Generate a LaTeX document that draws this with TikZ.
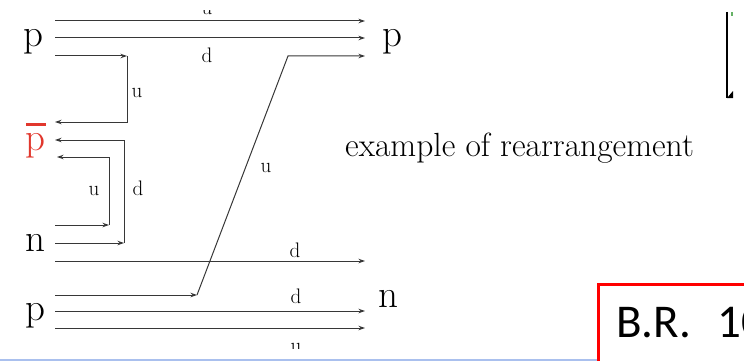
\documentclass[tikz,border=0pt]{standalone}
\usepackage{fontspec}
\newfontfamily\brfont{Carlito}
\usetikzlibrary{arrows.meta}
\definecolor{pred}{RGB}{225,55,45}
\definecolor{lineblue}{RGB}{170,192,238}
\definecolor{quarkline}{RGB}{55,55,55}
\tikzset{
  quark/.style={line width=1pt, draw=quarkline},
  arr/.style={quark, -{Stealth[length=6.5pt,width=4.5pt]}},
  big/.style={font=\fontsize{39}{41}\selectfont, inner sep=0pt, anchor=base},
  lbl/.style={font=\fontsize{21}{23}\selectfont, inner sep=0pt, anchor=base},
}
\begin{document}
\begin{tikzpicture}[x=1pt,y=-1pt]
\useasboundingbox (0,0) rectangle (744,361);
\begin{scope}
\clip (0,11) rectangle (744,348.5);
% end points
\coordinate (a1) at (55,21);  \coordinate (b1) at (365,21);
\coordinate (a2) at (55,38);  \coordinate (b2) at (365,38);
\coordinate (a3) at (55,56);  \coordinate (c3) at (127,56);
\coordinate (d3) at (127,122); \coordinate (e3) at (55,122);
\coordinate (f3) at (288,56); \coordinate (b3) at (365,56);
\coordinate (n1) at (55,243); \coordinate (c4) at (124,243);
\coordinate (d4) at (124,140); \coordinate (e4) at (55,140);
\coordinate (n2) at (55,225); \coordinate (c5) at (109,225);
\coordinate (d5) at (109,157); \coordinate (e5) at (57,157);
\coordinate (a6) at (55,261); \coordinate (b6) at (365,261);
\coordinate (a7) at (55,295); \coordinate (c7) at (197,295);
\coordinate (a8) at (55,311); \coordinate (b8) at (365,311);
\coordinate (a9) at (55,328); \coordinate (b9) at (365,328);
% quark lines
\draw[arr] (a1) -- (b1);
\draw[arr] (a2) -- (b2);
\draw[arr] (a3) -- (c3);
\draw[arr] (c3) -- (d3) -- (e3);
\draw[arr] (n1) -- (c4);
\draw[arr] (c4) -- (d4) -- (e4);
\draw[arr] (n2) -- (c5);
\draw[arr] (c5) -- (d5) -- (e5);
\draw[arr] (a6) -- (b6);
\draw[arr] (a7) -- (c7);
\draw[arr] (c7) -- (f3) -- (b3);
\draw[arr] (a8) -- (b8);
\draw[arr] (a9) -- (b9);
% hadron labels
\node[big] (pL) at (33,47) {p};
\node[big] (pbar) at (35,150) {\color{pred}\rlap{\hspace{0.03em}\rule[0.62em]{0.5em}{0.07em}}p};
\node[big] (nL) at (35,251) {n};
\node[big] (pL2) at (35,320) {p};
\node[big] (pR) at (392,47) {p};
\node[big] (nR) at (388,307) {n};
% quark labels
\node[lbl] (lu1) at (207,15) {u};
\node[lbl] (ld1) at (207,63) {d};
\node[lbl] (lu2) at (137,97) {u};
\node[lbl] (lu3) at (94,195) {u};
\node[lbl] (ld2) at (138,195) {d};
\node[lbl] (lu4) at (266,172) {u};
\node[lbl] (ld3) at (295,257) {d};
\node[lbl] (ld4) at (296,303) {d};
\node[lbl] (lu5) at (296,352) {u};
\end{scope}
\node[font=\fontsize{33.5}{35}\selectfont, inner sep=0pt, anchor=base west] (ex) at (345,156) {example of rearrangement};
\begin{scope}
\clip (0,0) rectangle (744,361);
\draw[line width=2pt, lineblue] (0,359.5) -- (597,359.5);
\draw[line width=3pt, red] (598.5,284.5) rectangle (800,400);
\node[font=\brfont\fontsize{47}{49}\selectfont, inner sep=0pt, anchor=base west] (br) at (616,337) {B.R.\hspace{26pt}10};
\draw[line width=2pt, black] (727,12) -- (727,98);
\fill[black] (727,98) -- (733,91) -- (733,98) -- cycle;
\fill[green!50!black!60] (731,12) rectangle (733,16);
\end{scope}
\end{tikzpicture}
\end{document}
